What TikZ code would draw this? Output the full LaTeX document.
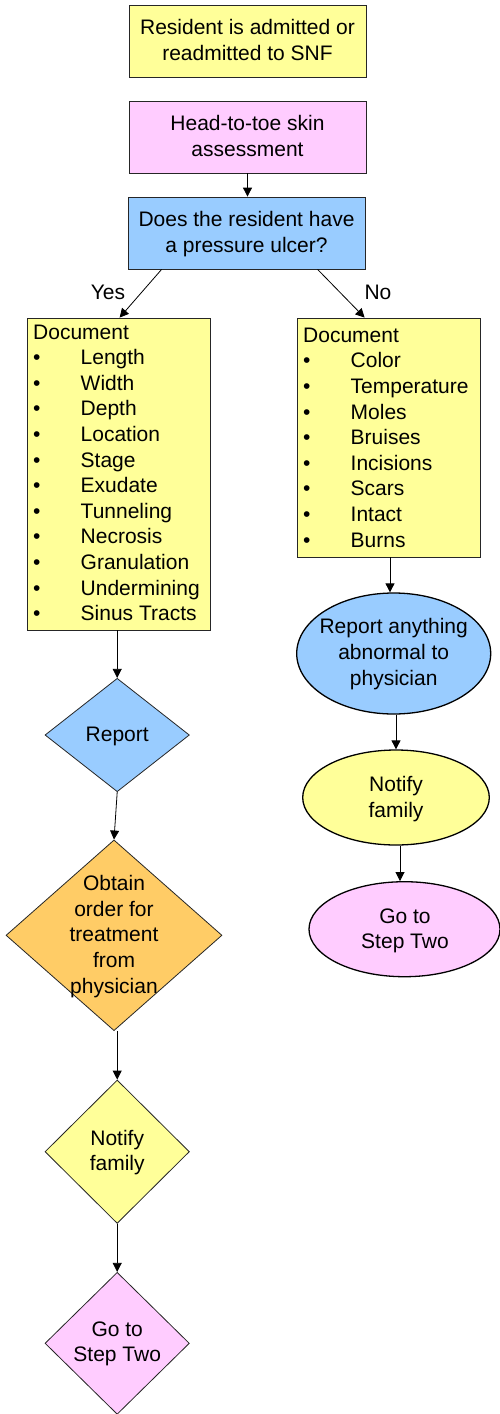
\documentclass[tikz,border=0pt]{standalone}
\usepackage{fontspec}
\setmainfont{Liberation Sans}
\usetikzlibrary{shapes.geometric,arrows.meta}
\definecolor{cyel}{HTML}{FFFF99}
\definecolor{cpink}{HTML}{FFCCFF}
\definecolor{cblue}{HTML}{99CCFF}
\definecolor{corange}{HTML}{FFCC66}
\newcommand{\itm}{\makebox[47.5pt][l]{\textbullet}}
\tikzset{
  shp/.style={draw=black!85, line width=0.8pt, inner sep=0pt},
  boxnode/.style={shp, rectangle, minimum width=237pt, minimum height=72pt},
  dianode/.style={shp, diamond},
  ellnode/.style={shp, ellipse, draw=black, line width=1.3pt},
  txt/.style={font=\fontsize{21}{25.6}\selectfont, align=center, inner sep=0pt},
  listtxt/.style={font=\fontsize{21}{25.6}\selectfont, anchor=base west, inner sep=0pt},
  arr/.style={draw=black, line width=0.8pt, -{Triangle[length=9pt,width=9pt]}},
}
\begin{document}
\begin{tikzpicture}[x=1pt,y=-1pt]
\useasboundingbox (0,0) rectangle (500,1414);

% top boxes
\node[boxnode, fill=cyel] (adm) at (247.5,41) {};
\node[txt] (admT) at (247.5,40) {Resident is admitted or\\readmitted to SNF};
\node[boxnode, fill=cpink] (skin) at (247.5,137) {};
\node[txt] (skinT) at (247.5,136) {Head-to-toe skin\\assessment};
\node[boxnode, fill=cblue] (q) at (246.5,233) {};
\node[txt] (qT) at (246.5,234) {Does the resident have\\a pressure ulcer?};

% document boxes
\node[shp, rectangle, fill=cyel, minimum width=183pt, minimum height=312pt] (docL) at (118.5,474) {};
\node[listtxt] (docLT) at (33,339) {\begin{tabular}[t]{@{}l@{}}Document\\
\itm Length\\ \itm Width\\ \itm Depth\\ \itm Location\\ \itm Stage\\ \itm Exudate\\
\itm Tunneling\\ \itm Necrosis\\ \itm Granulation\\ \itm Undermining\\ \itm Sinus Tracts\end{tabular}};
\node[shp, rectangle, fill=cyel, minimum width=183pt, minimum height=239pt] (docR) at (388.5,437.5) {};
\node[listtxt] (docRT) at (303,342.3) {\begin{tabular}[t]{@{}l@{}}Document\\
\itm Color\\ \itm Temperature\\ \itm Moles\\ \itm Bruises\\ \itm Incisions\\ \itm Scars\\
\itm Intact\\ \itm Burns\end{tabular}};

% right column ellipses
\node[ellnode, fill=cblue, minimum width=194pt, minimum height=121pt] (e1) at (393.7,653.5) {};
\node[txt] (e1T) at (393.7,654) {Report anything\\abnormal to\\physician};
\node[ellnode, fill=cyel, minimum width=186.6pt, minimum height=95pt] (e2) at (396,797.5) {};
\node[txt] (e2T) at (396,799) {Notify\\family};
\node[ellnode, fill=cpink, minimum width=191pt, minimum height=95pt] (e3) at (404.5,929.2) {};
\node[txt] (e3T) at (405,930.7) {Go to\\Step Two};

% left column diamonds
\node[dianode, fill=cblue, minimum width=144.4pt, minimum height=113.4pt] (rep) at (117.2,735) {};
\node[txt] (repT) at (117.2,736) {Report};
\node[dianode, fill=corange, minimum width=216pt, minimum height=190.7pt] (obt) at (114,935.3) {};
\node[txt] (obtT) at (114,936.5) {Obtain\\order for\\treatment\\from\\physician};
\node[dianode, fill=cyel, minimum width=144.4pt, minimum height=143.4pt] (nf) at (117.2,1151.7) {};
\node[txt] (nfT) at (117.2,1152.4) {Notify\\family};
\node[dianode, fill=cpink, minimum width=144.4pt, minimum height=142pt] (go) at (117.2,1343.3) {};
\node[txt] (goT) at (117.2,1344) {Go to\\Step Two};

% labels
\node[txt] (yes) at (108,292.5) {Yes};
\node[txt] (no) at (378,292.5) {No};

% connectors
\draw[arr] (skin.south) -- (skin.south |- q.north);
\draw[arr] ([xshift=34pt]q.south west) -- ([xshift=93pt]docL.north west);
\draw[arr] ([xshift=190pt]q.south west) -- ([xshift=68pt]docR.north west);
\draw[arr] (docL.south -| rep.north) -- (rep.north);
\draw[arr] (rep.south) -- (obt.north);
\draw[arr] (nf.north |- obt.south) -- (nf.north);
\draw[arr] (nf.south) -- (go.north);
\draw[arr] ([xshift=1.5pt]docR.south) -- ([xshift=1.5pt]docR.south |- e1.north);
\draw[arr] (e1.south -| e2.north) -- (e2.north);
\draw[arr] ([xshift=4pt]e2.south) -- ([xshift=4pt]e2.south |- e3.north);
\end{tikzpicture}
\end{document}
